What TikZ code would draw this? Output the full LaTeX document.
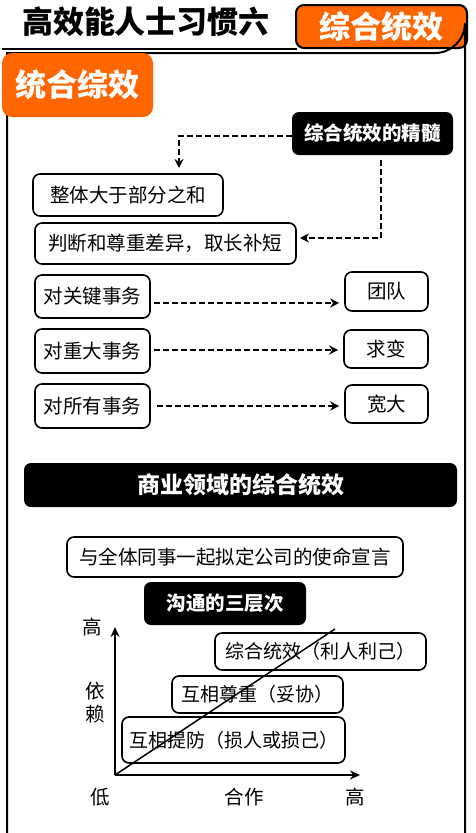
\documentclass[tikz,border=0pt]{standalone}
\usepackage{fontspec}
\setmainfont{Noto Sans CJK SC}
\usetikzlibrary{arrows.meta,calc}
\definecolor{brandorange}{HTML}{FF6600}
\begin{document}
\begin{tikzpicture}[x=1pt,y=-1pt,
  fs/.style={font=\fontsize{#1}{#1}\selectfont},
  wbox/.style={draw=black,line width=1.6pt,rounded corners=7pt,fill=white,inner sep=0pt,fs=19.5},
  bbox/.style={fill=black,rounded corners=7pt,text=white,inner sep=0pt,font=\bfseries\fontsize{19.5}{19.5}\selectfont},
  dasharrow/.style={line width=1.8pt,dash pattern=on 6pt off 3pt,-{Stealth[length=9pt,width=9pt]}},
  axisarrow/.style={line width=1.8pt,-{Stealth[length=10pt,width=9pt]}},
  axlabel/.style={fs=19.5,inner sep=0pt}
]
\useasboundingbox (0,0) rectangle (476,833);
\fill[white] (0,0) rectangle (476,833);
% header
\node[inner sep=0pt,font=\bfseries\fontsize{31}{31}\selectfont] (title) at (146,22) {高效能人士习惯六};
\draw[line width=2pt] (2,49) -- (297,49);
\node[draw=black,line width=2pt,fill=brandorange,rounded corners=8pt,minimum width=171pt,minimum height=43pt,inner sep=0pt,text=white,font=\bfseries\fontsize{31}{31}\selectfont] (topbox) at (381.5,26.5) {综合统效};
% frame
\draw[line width=2pt] (7,833) -- (7,53) -- (435,53) arc[start angle=90,end angle=0,radius=30] -- (465,833);
\node[fill=brandorange,rounded corners=10pt,minimum width=151pt,minimum height=64pt,inner sep=0pt,text=white,font=\bfseries\fontsize{31}{31}\selectfont] (sect) at (77.5,85) {\raisebox{3pt}{统合综效}};
% essence
\node[bbox,minimum width=161pt,minimum height=43pt] (essence) at (372.5,133.5) {综合统效的精髓};
\node[wbox,minimum width=190pt,minimum height=42pt] (b1) at (128,195) {整体大于部分之和};
\node[wbox,minimum width=261pt,minimum height=41pt] (b2) at (165.5,243.5) {判断和尊重差异，取长补短};
\coordinate (a1end) at (179,168);
\draw[dasharrow] ([yshift=-2.5pt]essence.west) -| (a1end);
\coordinate (a2start) at (381,160);
\coordinate (a2end) at (300,238);
\draw[dasharrow] (a2start) |- (a2end);
% rows
\node[wbox,minimum width=115pt,minimum height=43pt] (k1) at (92.5,296.5) {对关键事务};
\node[wbox,minimum width=83pt,minimum height=39pt] (t1) at (386.5,291.5) {团队};
\node[wbox,minimum width=115pt,minimum height=44pt] (k2) at (92.5,351) {对重大事务};
\node[wbox,minimum width=84pt,minimum height=38pt] (t2) at (386,349) {求变};
\node[wbox,minimum width=115pt,minimum height=44pt] (k3) at (92.5,406) {对所有事务};
\node[wbox,minimum width=83pt,minimum height=38pt] (t3) at (386.5,404) {宽大};
\draw[dasharrow,shorten <=3pt,shorten >=5pt] ([yshift=-6.5pt]k1.east) -- ([yshift=-6.5pt]k1.east -| t1.west);
\draw[dasharrow,shorten <=3pt,shorten >=5pt] ([yshift=1pt]k2.east) -- ([yshift=1pt]k2.east -| t2.west);
\draw[dasharrow,shorten <=6pt,shorten >=5pt] (k3.east) -- (k3.east -| t3.west);
% business
\node[bbox,minimum width=433pt,minimum height=44pt,font=\bfseries\fontsize{23}{23}\selectfont] (biz) at (240.5,485) {商业领域的综合统效};
\node[wbox,minimum width=336pt,minimum height=40pt] (mission) at (235,557) {与全体同事一起拟定公司的使命宣言};
\node[bbox,minimum width=162pt,minimum height=43pt] (comm) at (225,603.5) {沟通的三层次};
% chart
\node[wbox,minimum width=211pt,minimum height=37pt,fill=none,fs=19] (l3) at (320.5,651.5) {综合统效（利人利己）};
\node[wbox,minimum width=171pt,minimum height=37pt,fill=none,fs=19] (l2) at (257.5,694.5) {互相尊重（妥协）};
\node[wbox,minimum width=223pt,minimum height=46pt,fill=none,fs=19] (l1) at (233.5,740) {互相提防（损人或损己）};
\coordinate (origin) at (115,775);
\coordinate (ytip) at (115,627);
\coordinate (xtip) at (360,775);
\coordinate (diag) at (335,629);
\draw[axisarrow] (origin) -- (ytip);
\draw[axisarrow] (origin) -- (xtip);
\draw[line width=1.5pt] (origin) -- (diag);
\node[axlabel] (yhigh) at (92,627) {高};
\node[axlabel] (ydep1) at (95,691) {依};
\node[axlabel] (ydep2) at (95,714) {赖};
\node[axlabel] (low) at (100,797) {低};
\node[axlabel] (xcoop) at (244,797) {合作};
\node[axlabel] (xhigh) at (355,797) {高};
\end{tikzpicture}
\end{document}
